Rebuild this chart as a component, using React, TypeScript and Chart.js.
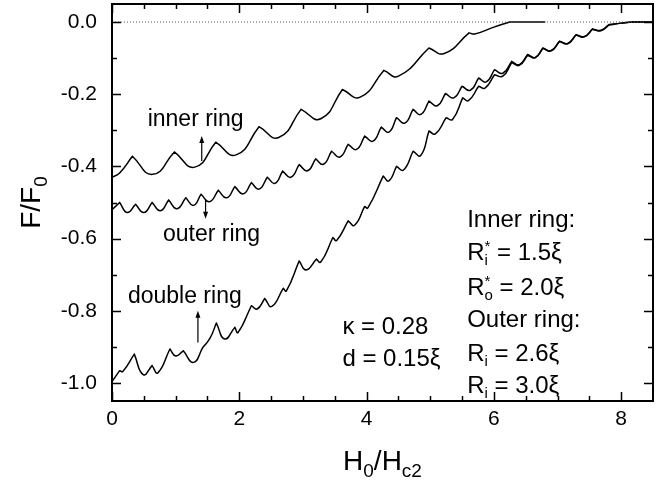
import React, { useEffect, useRef } from "react";
import { Chart, registerables } from "chart.js";

Chart.register(...registerables);

const FONT = '"Liberation Sans", Arial, Helvetica, sans-serif';

// ---- axes ----
const xMajorTicks = [0, 2, 4, 6, 8];
const xMinorTicks = [0.5, 1, 1.5, 2.5, 3, 3.5, 4.5, 5, 5.5, 6.5, 7, 7.5];
const yMajorTicks = [-1.0, -0.8, -0.6, -0.4, -0.2, 0];
const yMinorTicks = [-0.9, -0.7, -0.5, -0.3, -0.1];

// ---- inner ring (cusp = 1 marks a kink between two branches) ----
const innerX = [0, 0.12, 0.32, 0.64, 0.98, 1.3, 1.63, 1.95, 2.31, 2.62, 2.97, 3.28, 3.62, 3.9, 4.27, 4.5, 4.98, 5.22, 5.61, 5.7, 6.0, 6.25, 6.8];
const innerY = [-0.43, -0.418, -0.372, -0.422, -0.36, -0.402, -0.333, -0.368, -0.29, -0.32, -0.242, -0.268, -0.187, -0.208, -0.134, -0.15, -0.072, -0.087, -0.03, -0.033, -0.014, 0, 0];
const innerCusp = [0, 0, 1, 0, 1, 0, 1, 0, 1, 0, 1, 0, 1, 0, 1, 0, 1, 0, 1, 0, 0, 1, 0];

// ---- outer ring ----
const outerX = [0, 0.12, 0.24, 0.37, 0.5, 0.63, 0.76, 0.89, 1.02, 1.16, 1.28, 1.4, 1.53, 1.67, 1.8, 1.93, 2.06, 2.19, 2.31, 2.44, 2.56, 2.68, 2.81, 2.94, 3.07, 3.2, 3.32, 3.45, 3.58, 3.71, 3.84, 3.97, 4.1, 4.23, 4.35, 4.47, 4.6, 4.73, 4.85, 4.98, 5.11, 5.24, 5.37, 5.5, 5.63, 5.76, 5.88, 6.01, 6.14, 6.28, 6.4, 6.53, 6.65, 6.77, 6.9, 7.03, 7.16, 7.29, 7.42, 7.55, 7.68, 7.81, 8.0, 8.2, 8.5];
const outerY = [-0.52, -0.5, -0.528, -0.505, -0.528, -0.5, -0.523, -0.493, -0.517, -0.487, -0.508, -0.477, -0.498, -0.466, -0.487, -0.456, -0.476, -0.445, -0.463, -0.43, -0.447, -0.413, -0.43, -0.395, -0.412, -0.379, -0.394, -0.358, -0.374, -0.339, -0.353, -0.316, -0.33, -0.291, -0.305, -0.265, -0.28, -0.242, -0.256, -0.219, -0.232, -0.198, -0.21, -0.178, -0.189, -0.155, -0.166, -0.132, -0.142, -0.109, -0.118, -0.09, -0.098, -0.072, -0.079, -0.053, -0.059, -0.035, -0.04, -0.019, -0.023, -0.007, -0.003, 0, 0];
const outerCusp = [0, 1, 0, 1, 0, 1, 0, 1, 0, 1, 0, 1, 0, 1, 0, 1, 0, 1, 0, 1, 0, 1, 0, 1, 0, 1, 0, 1, 0, 1, 0, 1, 0, 1, 0, 1, 0, 1, 0, 1, 0, 1, 0, 1, 0, 1, 0, 1, 0, 1, 0, 1, 0, 1, 0, 1, 0, 1, 0, 1, 0, 1, 0, 0, 0];

// ---- double ring ----
const doubleX = [0, 0.12, 0.17, 0.35, 0.49, 0.63, 0.72, 0.91, 1.0, 1.12, 1.28, 1.43, 1.54, 1.64, 1.77, 1.93, 1.98, 2.19, 2.28, 2.4, 2.51, 2.69, 2.74, 2.94, 3.05, 3.21, 3.28, 3.47, 3.53, 3.71, 3.81, 3.97, 4.02, 4.26, 4.35, 4.47, 4.58, 4.73, 4.85, 4.98, 5.08, 5.25, 5.35, 5.51, 5.6, 5.76, 5.86, 6.01, 6.14, 6.28, 6.4, 6.53, 6.65, 6.77, 6.9, 7.03, 7.16, 7.29, 7.42, 7.55, 7.68, 7.81, 8.0, 8.2, 8.5];
const doubleY = [-0.996, -0.966, -0.968, -0.92, -0.977, -0.952, -0.972, -0.906, -0.925, -0.911, -0.943, -0.901, -0.876, -0.834, -0.878, -0.846, -0.86, -0.786, -0.795, -0.766, -0.788, -0.738, -0.745, -0.662, -0.687, -0.657, -0.665, -0.597, -0.605, -0.551, -0.563, -0.511, -0.515, -0.427, -0.44, -0.4, -0.41, -0.358, -0.37, -0.302, -0.31, -0.265, -0.27, -0.21, -0.218, -0.178, -0.183, -0.146, -0.15, -0.112, -0.12, -0.092, -0.099, -0.073, -0.08, -0.054, -0.06, -0.036, -0.041, -0.02, -0.024, -0.008, -0.003, 0, 0];
const doubleCusp = [0, 1, 0, 1, 0, 1, 0, 1, 0, 1, 0, 1, 0, 1, 0, 1, 0, 1, 0, 1, 0, 1, 0, 1, 0, 1, 0, 1, 0, 1, 0, 1, 0, 1, 0, 1, 0, 1, 0, 1, 0, 1, 0, 1, 0, 1, 0, 1, 0, 1, 0, 1, 0, 1, 0, 1, 0, 1, 0, 1, 0, 1, 0, 0, 0];

// ---- reference line ----
const zeroX = [0, 8.5];
const zeroY = [0, 0];

// ---- annotations (x in data units, y = text baseline in data units) ----
const curveLabels = [
  { text: "inner ring", x: 0.56, y: -0.287 },
  { text: "outer ring", x: 0.8, y: -0.607 },
  { text: "double ring", x: 0.25, y: -0.779 },
];
const arrows = [
  { x: 1.41, from: -0.385, to: -0.316 },
  { x: 1.47, from: -0.49, to: -0.545 },
  { x: 1.35, from: -0.888, to: -0.8 },
];
const paramX = 3.62;
const rightX = 5.58;

function buildSeries(xs: number[], ys: number[], cusp: number[]) {
  const pts: { x: number; y: number | null }[] = [];
  for (let i = 0; i < xs.length; i++) {
    pts.push({ x: xs[i], y: ys[i] });
    if (cusp[i] && i > 0 && i < xs.length - 1) {
      pts.push({ x: xs[i], y: null });
      pts.push({ x: xs[i], y: ys[i] });
    }
  }
  return pts;
}

type Run = { t?: string; size: number; dy?: number; sup?: string; sub?: string };

function drawRuns(ctx: CanvasRenderingContext2D, x: number, y: number, runs: Run[]) {
  let cx = x;
  for (const r of runs) {
    ctx.font = `${r.size}px ${FONT}`;
    if (r.t !== undefined) {
      ctx.fillText(r.t, cx, y + (r.dy || 0));
      cx += ctx.measureText(r.t).width;
    } else {
      let w = 0;
      if (r.sup) {
        ctx.fillText(r.sup, cx, y - 9);
        w = Math.max(w, ctx.measureText(r.sup).width);
      }
      if (r.sub) {
        ctx.fillText(r.sub, cx, y + 5);
        w = Math.max(w, ctx.measureText(r.sub).width);
      }
      cx += w;
    }
  }
  return cx - x;
}

const decorPlugin = {
  id: "decor",
  afterDatasetsDraw(chart: any) {
    const ctx: CanvasRenderingContext2D = chart.ctx;
    const xs = chart.scales.x;
    const ys = chart.scales.y;
    const a = chart.chartArea;
    ctx.save();
    ctx.strokeStyle = "#000";
    ctx.fillStyle = "#000";
    // frame
    ctx.lineWidth = 2;
    ctx.strokeRect(a.left, a.top, a.right - a.left, a.bottom - a.top);
    // ticks
    ctx.lineWidth = 1.5;
    const tickX = (v: number, len: number) => {
      const p = Math.round(xs.getPixelForValue(v)) + 0.5;
      ctx.beginPath();
      ctx.moveTo(p, a.bottom);
      ctx.lineTo(p, a.bottom - len);
      ctx.moveTo(p, a.top);
      ctx.lineTo(p, a.top + len);
      ctx.stroke();
    };
    const tickY = (v: number, len: number) => {
      const p = Math.round(ys.getPixelForValue(v)) + 0.5;
      ctx.beginPath();
      ctx.moveTo(a.left, p);
      ctx.lineTo(a.left + len, p);
      ctx.moveTo(a.right, p);
      ctx.lineTo(a.right - len, p);
      ctx.stroke();
    };
    xMajorTicks.forEach((v) => tickX(v, 9));
    xMinorTicks.forEach((v) => tickX(v, 5));
    yMajorTicks.forEach((v) => tickY(v, 9));
    yMinorTicks.forEach((v) => tickY(v, 5));

    // arrows
    ctx.lineWidth = 1.2;
    for (const ar of arrows) {
      const px = xs.getPixelForValue(ar.x);
      const y0 = ys.getPixelForValue(ar.from);
      const y1 = ys.getPixelForValue(ar.to);
      const dir = y1 < y0 ? -1 : 1;
      ctx.beginPath();
      ctx.moveTo(px, y0);
      ctx.lineTo(px, y1 - dir * 5);
      ctx.stroke();
      ctx.beginPath();
      ctx.moveTo(px, y1);
      ctx.lineTo(px - 2.5, y1 - dir * 7);
      ctx.lineTo(px + 2.5, y1 - dir * 7);
      ctx.closePath();
      ctx.fill();
    }

    // curve labels
    ctx.textAlign = "left";
    ctx.textBaseline = "alphabetic";
    const S = 23;
    const S2 = 24;
    const s = 15;
    for (const l of curveLabels) {
      ctx.font = `${S}px ${FONT}`;
      ctx.fillText(l.text, xs.getPixelForValue(l.x), ys.getPixelForValue(l.y));
    }
    // parameters
    const px0 = xs.getPixelForValue(paramX);
    drawRuns(ctx, px0, ys.getPixelForValue(-0.864), [{ t: "\u03BA = 0.28", size: S2 }]);
    drawRuns(ctx, px0, ys.getPixelForValue(-0.953), [{ t: "d = 0.15\u03BE", size: S2 }]);
    const rx = xs.getPixelForValue(rightX);
    drawRuns(ctx, rx, ys.getPixelForValue(-0.569), [{ t: "Inner ring:", size: S2 }]);
    drawRuns(ctx, rx, ys.getPixelForValue(-0.66), [
      { t: "R", size: S2 },
      { sup: "*", sub: "i", size: s },
      { t: " = 1.5\u03BE", size: S2 },
    ]);
    drawRuns(ctx, rx, ys.getPixelForValue(-0.757), [
      { t: "R", size: S2 },
      { sup: "*", sub: "o", size: s },
      { t: " = 2.0\u03BE", size: S2 },
    ]);
    drawRuns(ctx, rx, ys.getPixelForValue(-0.845), [{ t: "Outer ring:", size: S2 }]);
    drawRuns(ctx, rx, ys.getPixelForValue(-0.939), [
      { t: "R", size: S2 },
      { sub: "i", size: s },
      { t: " = 2.6\u03BE", size: S2 },
    ]);
    drawRuns(ctx, rx, ys.getPixelForValue(-1.028), [
      { t: "R", size: S2 },
      { sub: "i", size: s },
      { t: " = 3.0\u03BE", size: S2 },
    ]);

    // axis titles
    const T = 28;
    const ts = 19;
    const xRuns: Run[] = [
      { t: "H", size: T },
      { t: "0", size: ts, dy: 7 },
      { t: "/H", size: T },
      { t: "c2", size: ts, dy: 7 },
    ];
    let w = 0;
    for (const r of xRuns) {
      ctx.font = `${r.size}px ${FONT}`;
      w += ctx.measureText(r.t || "").width;
    }
    const cxm = (a.left + a.right) / 2;
    drawRuns(ctx, cxm - w / 2, 470, xRuns);

    const yRuns: Run[] = [
      { t: "F/F", size: T },
      { t: "0", size: ts, dy: 7 },
    ];
    let wy = 0;
    for (const r of yRuns) {
      ctx.font = `${r.size}px ${FONT}`;
      wy += ctx.measureText(r.t || "").width;
    }
    ctx.save();
    ctx.translate(40, (a.top + a.bottom) / 2);
    ctx.rotate(-Math.PI / 2);
    drawRuns(ctx, -wy / 2, 0, yRuns);
    ctx.restore();

    ctx.restore();
  },
};

export default function App() {
  const ref = useRef<HTMLCanvasElement>(null);
  useEffect(() => {
    if (!ref.current) return;
    const lineDs = (label: string, data: any[]) => ({
      label,
      data,
      borderColor: "#000",
      borderWidth: 1.5,
      pointRadius: 0,
      tension: 0.5,
      cubicInterpolationMode: "default" as const,
      spanGaps: false,
      borderCapStyle: "round" as const,
      borderJoinStyle: "round" as const,
      fill: false,
    });
    const noPad = (s: any) => {
      s.paddingTop = 0;
      s.paddingBottom = 0;
      s.paddingLeft = 0;
      s.paddingRight = 0;
    };
    const chart = new Chart(ref.current, {
      type: "line",
      data: {
        datasets: [
          {
            label: "zero",
            data: zeroX.map((x, i) => ({ x, y: zeroY[i] })),
            borderColor: "#555",
            borderWidth: 1,
            borderDash: [1, 2],
            pointRadius: 0,
            fill: false,
          },
          lineDs("inner ring", buildSeries(innerX, innerY, innerCusp)),
          lineDs("outer ring", buildSeries(outerX, outerY, outerCusp)),
          lineDs("double ring", buildSeries(doubleX, doubleY, doubleCusp)),
        ],
      },
      options: {
        responsive: false,
        animation: false,
        devicePixelRatio: 1,
        layout: { padding: { top: 4, right: 10, left: 0, bottom: 0 } },
        plugins: { legend: { display: false }, tooltip: { enabled: false } },
        scales: {
          x: {
            type: "linear",
            min: 0,
            max: 8.5,
            afterBuildTicks: (s: any) => {
              s.ticks = xMajorTicks.map((v) => ({ value: v }));
            },
            afterFit: (s: any) => {
              s.height = 80;
              noPad(s);
            },
            grid: { display: false, drawTicks: false },
            border: { display: false },
            ticks: {
              font: { family: FONT, size: 21 },
              color: "#000",
              padding: 6,
              maxRotation: 0,
              callback: (v: any) => String(v),
            },
          },
          y: {
            type: "linear",
            min: -1.05,
            max: 0.05,
            afterBuildTicks: (s: any) => {
              s.ticks = yMajorTicks.map((v) => ({ value: v }));
            },
            afterFit: (s: any) => {
              s.width = 112;
              noPad(s);
            },
            grid: { display: false, drawTicks: false },
            border: { display: false },
            ticks: {
              font: { family: FONT, size: 21 },
              color: "#000",
              padding: 15,
              callback: (v: any) => Number(v).toFixed(1),
            },
          },
        },
      },
      plugins: [decorPlugin],
    });
    return () => chart.destroy();
  }, []);
  return (
    <div style={{ position: "absolute", left: 0, top: 0, width: 663, height: 481 }}>
      <canvas ref={ref} width={663} height={481} style={{ display: "block" }} />
    </div>
  );
}
